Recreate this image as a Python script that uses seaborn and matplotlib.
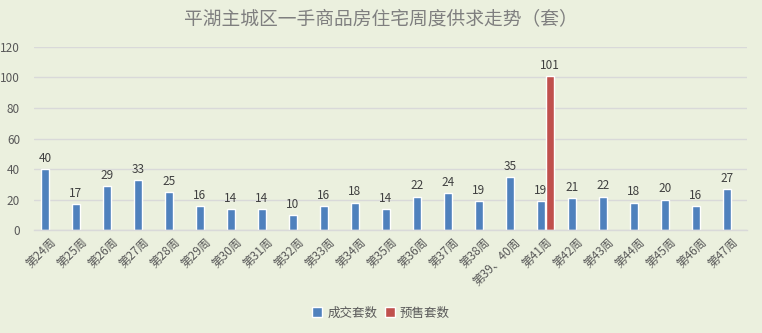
import matplotlib
matplotlib.use("Agg")
import matplotlib.pyplot as plt
import seaborn as sns
import pandas as pd
import numpy as np

weeks = ["第24周", "第25周", "第26周", "第27周", "第28周", "第29周", "第30周", "第31周",
         "第32周", "第33周", "第34周", "第35周", "第36周", "第37周", "第38周", "第39、40周",
         "第41周", "第42周", "第43周", "第44周", "第45周", "第46周", "第47周"]
deals = [40, 17, 29, 33, 25, 16, 14, 14, 10, 16, 18, 14, 22, 24, 19, 35, 19, 21, 22, 18, 20, 16, 27]
presale = [np.nan] * 16 + [101] + [np.nan] * 6
series_names = ["成交套数", "预售套数"]
colors = ["#4F81BD", "#C0504D"]

sns.set_theme(style="white")
plt.rcParams['font.family'] = ['Noto Sans CJK SC', 'DejaVu Sans']

df = pd.DataFrame({
    "week": weeks * 2,
    "value": deals + presale,
    "series": [series_names[0]] * len(weeks) + [series_names[1]] * len(weeks),
})

bg = "#EBF0DE"
fig = plt.figure(figsize=(7.62, 3.33), dpi=100, facecolor=bg)
ax = fig.add_axes([0.0446, 0.309, 0.9357, 0.550], facecolor=bg)

sns.barplot(data=df, x="week", y="value", hue="series", order=weeks,
            hue_order=series_names, palette=colors, width=0.6, gap=0.2,
            saturation=1, ax=ax, legend=True, errorbar=None)

for cont in ax.containers:
    labels = []
    for b in cont:
        h = b.get_height()
        labels.append("" if (h is None or np.isnan(h) or h == 0) else f"{int(round(h))}")
    ax.bar_label(cont, labels=labels, padding=3, fontsize=8.5, color="#404040")

ax.set_ylim(0, 120)
ax.set_yticks(range(0, 121, 20))
ax.set_xlim(-0.5, len(weeks) - 0.5)
ax.grid(axis="y", color="#D9D9D9", linewidth=1)
ax.set_axisbelow(True)
for s in ["left", "right", "top"]:
    ax.spines[s].set_visible(False)
ax.spines["bottom"].set_color("#D9D9D9")
ax.spines["bottom"].set_linewidth(1)
ax.set_xlabel("")
ax.set_ylabel("")
ax.tick_params(axis="y", length=0, labelsize=8.5, labelcolor="#595959", pad=10)
ax.tick_params(axis="x", length=0, labelsize=8.5, labelcolor="#595959", pad=4)
for lbl in ax.get_xticklabels():
    lbl.set_rotation(45)
    lbl.set_ha("right")
    lbl.set_rotation_mode("anchor")

handles, labs = ax.get_legend_handles_labels()
ax.legend(handles, labs, loc="center", ncol=2, frameon=False, fontsize=9,
          handlelength=0.8, handleheight=0.8, handletextpad=0.4, columnspacing=0.6,
          labelcolor="#595959")
leg = ax.get_legend()
leg.set_bbox_to_anchor((0.5, 0.06), transform=fig.transFigure)

fig.text(0.5, 0.945, "平湖主城区一手商品房住宅周度供求走势（套）", ha="center", va="center",
         fontsize=13.5, color="#7F7F7F")

fig.savefig("out.png", dpi=100, facecolor=bg)
